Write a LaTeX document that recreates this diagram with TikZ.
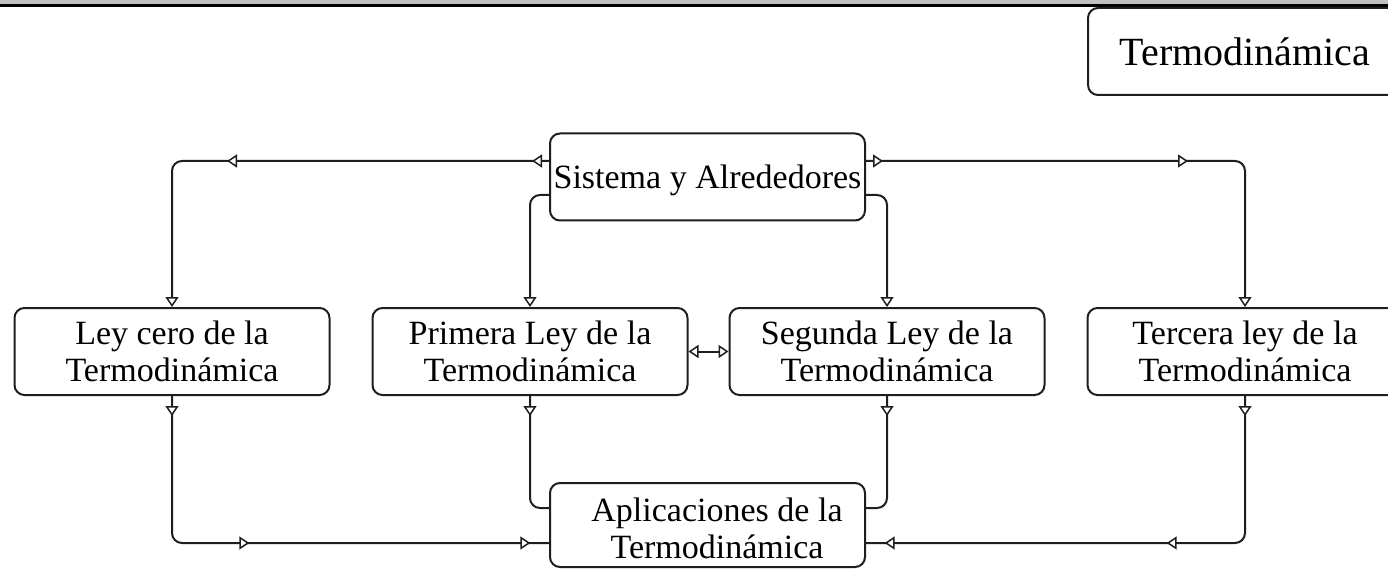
\documentclass[tikz,border=0pt]{standalone}
\usepackage{fontspec}
\setmainfont{Liberation Serif}
\usetikzlibrary{arrows.meta,decorations.markings}
\definecolor{bargray}{RGB}{192,192,192}
\definecolor{linegray}{RGB}{30,30,30}
\begin{document}
\begin{tikzpicture}[x=1pt,y=-1pt,line width=2pt,
  box/.style={draw=linegray, rounded corners=10pt, minimum width=315pt, minimum height=87pt,
    inner sep=0pt, align=center, font=\fontsize{34}{37}\selectfont},
  Tri/.tip={Triangle[length=10pt,width=13pt,fill=white,line width=1.5pt]},
  conn/.style={draw=linegray, rounded corners=10pt},
  arrat/.style={postaction={decorate,decoration={markings,mark=at position #1 with {\arrow{Tri}}}}}
]
\path[use as bounding box, clip] (0,0) rectangle (1388,569);
\fill[bargray] (0,0) rectangle (1388,4);
\fill[black] (0,4) rectangle (1388,7);

\node[box, minimum width=314pt, font=\fontsize{40}{44}\selectfont] (title) at (1245,51.5) {Termodinámica};
\node[box, text height=28pt, text depth=4pt] (sys) at (707.5,177) {Sistema y Alrededores};
\node[box] (ley0) at (172,351.5) {Ley cero de la\\Termodinámica};
\node[box] (prim) at (530,351.5) {Primera Ley de la\\Termodinámica};
\node[box] (seg) at (887,351.5) {Segunda Ley de la\\Termodinámica};
\node[box] (terc) at (1245,351.5) {Tercera ley de la\\Termodinámica};
\node[box, minimum height=84pt] (aplic) at (707.5,525) {};
\node[align=center, inner sep=0pt, font=\fontsize{34}{37}\selectfont] (aplictxt) at (717,528) {Aplicaciones de la\\Termodinámica};

\draw[conn,-Tri,arrat=17pt,arrat=322pt] ([yshift=16pt]sys.west) -| (ley0.north);
\draw[conn,-Tri] ([yshift=-18pt]sys.west) -| (prim.north);
\draw[conn,-Tri,arrat=17pt,arrat=322pt] ([yshift=16pt]sys.east) -| (terc.north);
\draw[conn,-Tri] ([yshift=-18pt]sys.east) -| (seg.north);

\draw[conn,arrat=20pt,arrat=220pt,arrat=501pt] (ley0.south) |- ([yshift=-18pt]aplic.west);
\draw[conn,arrat=20pt] (prim.south) |- ([yshift=17pt]aplic.west);
\draw[conn,arrat=20pt] (seg.south) |- ([yshift=17pt]aplic.east);
\draw[conn,arrat=20pt,arrat=221pt,arrat=503pt] (terc.south) |- ([yshift=-18pt]aplic.east);

\draw[conn,Tri-Tri] (prim.east) -- (seg.west);
\end{tikzpicture}
\end{document}
